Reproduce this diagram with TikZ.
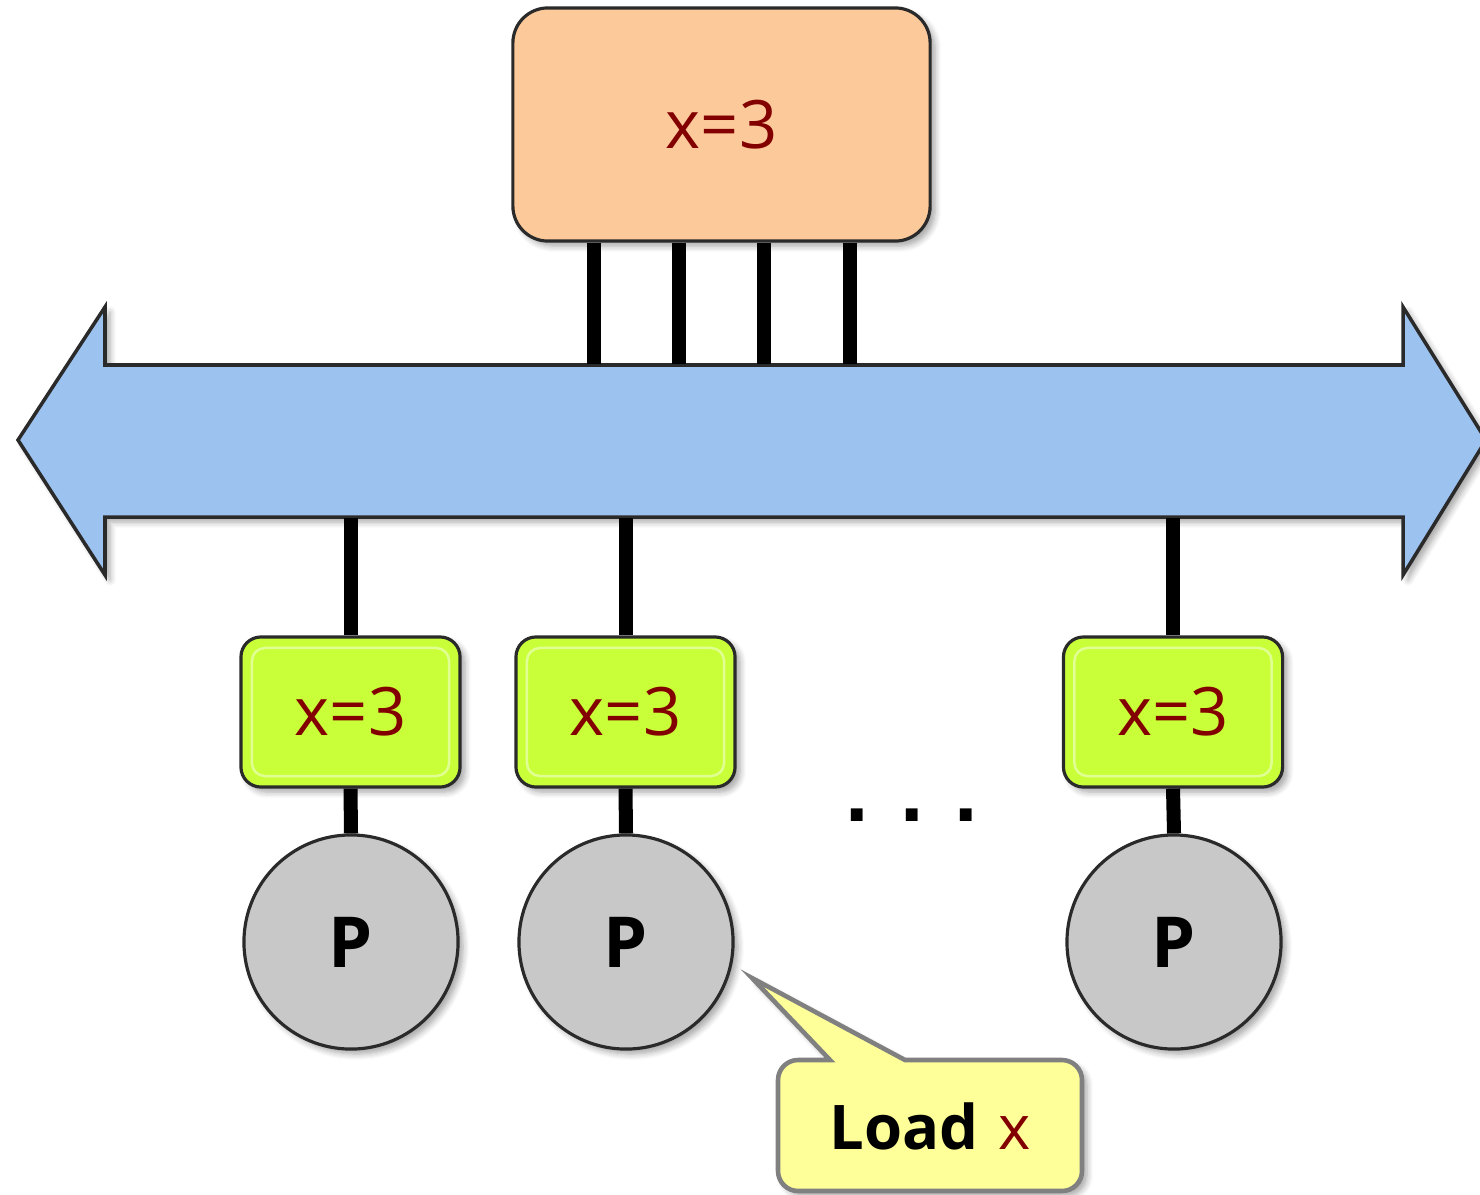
\documentclass[tikz,border=0pt]{standalone}
\usepackage{fontspec}
\setmainfont{Open Sans}
\newfontfamily\dotfont{DejaVu Sans}
\usetikzlibrary{shadows.blur}

\definecolor{peach}{HTML}{FCC99A}
\definecolor{lime}{HTML}{C8FF38}
\definecolor{busblue}{HTML}{9CC2F0}
\definecolor{procgray}{HTML}{C8C8C8}
\definecolor{noteyellow}{HTML}{FFFF99}
\definecolor{notegray}{HTML}{808080}
\definecolor{dkred}{HTML}{820000}
\definecolor{edge}{HTML}{2A2A2A}

\tikzset{
  softshadow/.style={blur shadow={shadow xshift=0.05cm, shadow yshift=-0.05cm,
      shadow blur steps=6, shadow blur radius=0.06cm, shadow opacity=35}},
  membox/.style={draw=edge, line width=0.9pt, fill=peach, rounded corners=0.35cm,
      minimum width=4.17cm, minimum height=2.33cm, inner sep=0pt, softshadow,
      text=dkred, font=\fontsize{19}{22}\selectfont},
  cachebox/.style={draw=edge, line width=0.9pt, fill=lime, rounded corners=0.2cm,
      minimum width=2.19cm, minimum height=1.5cm, inner sep=0pt, softshadow,
      text=dkred, font=\fontsize{19}{22}\selectfont,
      path picture={\draw[line width=0.7pt, white!45!lime, rounded corners=0.13cm]
        ([xshift=0.11cm,yshift=-0.11cm]path picture bounding box.north west) rectangle
        ([xshift=-0.11cm,yshift=0.11cm]path picture bounding box.south east);}},
  proc/.style={circle, draw=edge, line width=0.9pt, fill=procgray,
      minimum size=2.14cm, inner sep=0pt, softshadow,
      font=\fontsize{20}{24}\selectfont\bfseries},
  wire/.style={line width=0.14cm, black},
  busarrow/.style={draw=edge, line width=1pt, fill=busblue, line join=miter, softshadow},
  callout/.style={draw=notegray, line width=1.3pt, fill=noteyellow, softshadow}
}

\begin{document}
\begin{tikzpicture}[x=0.01cm, y=-0.01cm]
  \useasboundingbox (0,0) rectangle (1480,1194);

  % double-headed bus arrow
  \draw[busarrow] (18,440) -- (105,307) -- (105,365) -- (1403,365) -- (1403,307)
    -- (1486,440) -- (1403,575) -- (1403,517) -- (105,517) -- (105,575) -- cycle;
  \node[inner sep=0pt, minimum width=12.98cm, minimum height=1.52cm] (bus) at (754,441) {};

  % shared memory
  \node[membox] (mem) at (721.5,124.5) {x=3};

  % memory-to-bus wires
  \foreach \dx in {-1.275,-0.425,0.425,1.285}
    \draw[wire] ([xshift=\dx cm]mem.south) -- ([xshift=\dx cm]mem.south |- bus.north);

  % caches and processors
  \node[cachebox] (c1) at (350.5,712) {x=3};
  \node[cachebox] (c2) at (625.5,712) {x=3};
  \node[cachebox] (c3) at (1173,712) {x=3};

  \node[proc] (p1) at (351,942) {P};
  \node[proc] (p2) at (626,942) {P};
  \node[proc] (p3) at (1174,942) {P};

  \foreach \i in {1,2,3} {
    \draw[wire] (c\i.north |- bus.south) -- (c\i.north);
    \draw[wire] (c\i.south) -- (p\i.north);
  }

  % ellipsis between processors
  \node[inner sep=0pt, font=\dotfont\fontsize{19}{22}\selectfont\bfseries] (dots) at (912,815)
    {.\hspace{0.29cm}.\hspace{0.29cm}.};

  % callout note
  \draw[callout] (752,978) -- (905,1060) [rounded corners=0.2cm] -- (1082,1060)
    -- (1082,1191) -- (778,1191) -- (778,1060) [sharp corners] -- (830,1060) -- cycle;
  \node[inner sep=0pt, font=\fontsize{17.5}{21}\selectfont] (load) at (930,1126)
    {\textbf{Load}\hspace{0.2cm}\textcolor{dkred}{x}};
\end{tikzpicture}
\end{document}
